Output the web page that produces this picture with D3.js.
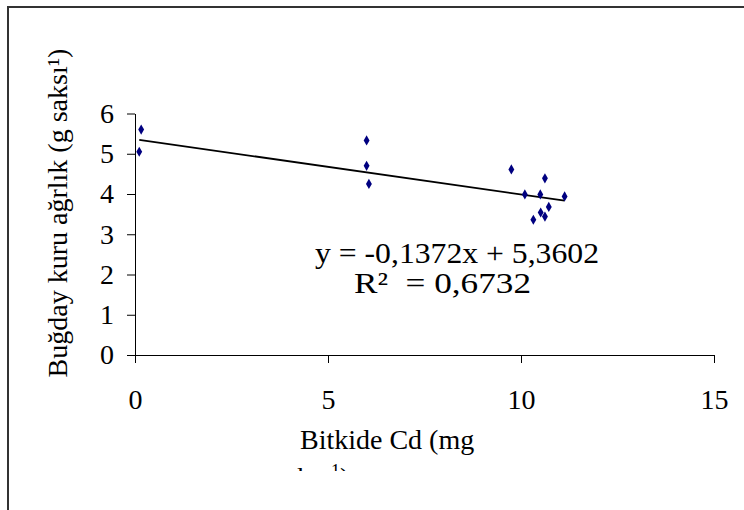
<!DOCTYPE html>
<html>
<head>
<meta charset="utf-8">
<script src="https://cdn.jsdelivr.net/npm/d3@7"></script>
<style>
  body { margin: 0; background: #fff; }
  svg text { font-family: "Liberation Serif", "Times New Roman", serif !important; fill: #000; }
</style>
</head>
<body>
<script>
// data: Cd in plant (x) vs dry wheat weight (y)
var cdValues = [0.16, 0.11, 6.0, 6.0, 6.06, 9.75, 10.1, 10.5, 10.62, 11.13, 10.72, 10.51, 10.62, 10.32];
var weightValues = [5.60, 5.05, 5.33, 4.70, 4.25, 4.61, 3.99, 3.99, 4.39, 3.94, 3.68, 3.54, 3.44, 3.36];
var xTicks = [0, 5, 10, 15];
var yTicks = [0, 1, 2, 3, 4, 5, 6];
// trendline as printed on the chart
var slope = -0.1372;
var intercept = 5.3602;
var eqLabels = ["y = -0,1372x + 5,3602", "R\u00B2  = 0,6732"];

var svgWidth = 744;
var svgHeight = 510;

var svg = d3.select("body").append("svg")
    .attr("width", svgWidth)
    .attr("height", svgHeight);

// outer chart frame (only top/left edges show)
svg.append("rect")
    .attr("x", 8)
    .attr("y", 7)
    .attr("width", 800)
    .attr("height", 600)
    .attr("fill", "none")
    .attr("stroke", "#333")
    .attr("stroke-width", 2);

var xScale = d3.scaleLinear().domain([0, 15]).range([135, 714]);
var yScale = d3.scaleLinear().domain([0, 6]).range([355, 113.5]);

// y axis
var yAxis = d3.axisLeft(yScale)
    .tickValues(yTicks)
    .tickFormat(d3.format("d"))
    .tickSize(8)
    .tickSizeOuter(0)
    .tickPadding(13);

svg.append("g")
    .attr("transform", `translate(${xScale(0)},0)`)
    .call(yAxis);

// x axis
var xAxis = d3.axisBottom(xScale)
    .tickValues(xTicks)
    .tickFormat(d3.format("d"))
    .tickSize(8)
    .tickSizeOuter(0);

var xG = svg.append("g")
    .attr("transform", `translate(0,${yScale(0)})`)
    .call(xAxis);
xG.selectAll("text")
    .attr("y", 54)
    .attr("dy", 0);

svg.selectAll("g").attr("font-family", null).attr("font-size", 28);
svg.selectAll(".domain, .tick line").attr("stroke", "#000");

// trend line
var xExtent = d3.extent(cdValues);
svg.append("line")
    .attr("x1", xScale(xExtent[0]))
    .attr("y1", yScale(slope * xExtent[0] + intercept))
    .attr("x2", xScale(xExtent[1]))
    .attr("y2", yScale(slope * xExtent[1] + intercept))
    .attr("stroke", "#000")
    .attr("stroke-width", 1.8);

// points
svg.selectAll("path.pt")
    .data(cdValues)
    .enter()
    .append("path")
    .attr("class", "pt")
    .attr("d", d3.symbol().type(d3.symbolDiamond).size(30))
    .attr("transform", (d, i) => `translate(${xScale(d)},${yScale(weightValues[i])})`)
    .attr("fill", "#000080");

// trendline label, a bit wider than the font gives
svg.selectAll(null)
    .data(eqLabels)
    .enter()
    .append("text")
    .attr("x", (d, i) => [315, 354][i])
    .attr("y", (d, i) => [263, 293][i])
    .attr("textLength", (d, i) => [284, 177][i])
    .attr("lengthAdjust", "spacingAndGlyphs")
    .style("white-space", "pre")
    .style("font-size", "30px")
    .text(d => d);

// y axis title
svg.append("text")
    .attr("transform", "translate(67,213) rotate(-90)")
    .attr("text-anchor", "middle")
    .style("font-size", "28px")
    .text("Buğday kuru ağrlık (g saksı\u00B9)");

// x axis title, second line is cut off by the chart area
svg.append("clipPath")
    .attr("id", "titleClip")
    .append("rect")
    .attr("x", 0)
    .attr("y", 0)
    .attr("width", svgWidth)
    .attr("height", 471);

var xTitle = svg.append("text")
    .attr("clip-path", "url(#titleClip)")
    .style("font-size", "28px");
xTitle.append("tspan")
    .attr("x", 300)
    .attr("y", 449)
    .text("Bitkide Cd (mg");
xTitle.append("tspan")
    .attr("x", 297)
    .attr("y", 487)
    .text("kg");
xTitle.append("tspan")
    .attr("dy", -10)
    .style("font-size", "18px")
    .text("-1");
xTitle.append("tspan")
    .attr("dy", 10)
    .text(")");
</script>
</body>
</html>
